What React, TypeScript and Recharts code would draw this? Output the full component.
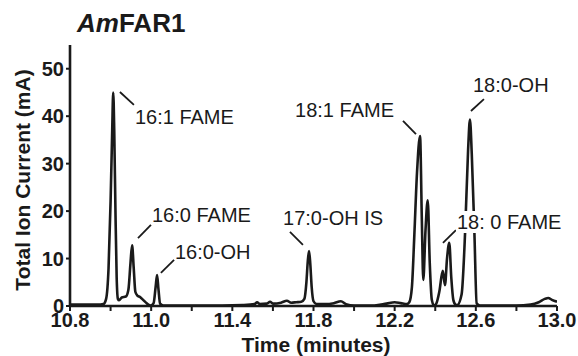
import React from 'react';
import { LineChart, Line, XAxis, YAxis, ReferenceLine, ReferenceDot } from 'recharts';

const FONT = '"Liberation Sans", Arial, sans-serif';
const INK = '#1a1a1a';

// retention time (minutes) and total ion current (mA)
const retentionTime = [
  10.6, 10.7, 10.75, 10.765, 10.778, 10.79, 10.8, 10.808, 10.813, 10.818,
  10.824, 10.83, 10.836, 10.842, 10.855, 10.875, 10.888, 10.898, 10.906, 10.914,
  10.922, 10.932, 10.945, 10.96, 10.98, 10.998, 11.012, 11.022, 11.029, 11.036,
  11.044, 11.06, 11.2, 11.35, 11.45, 11.51, 11.522, 11.535, 11.57, 11.586,
  11.6, 11.64, 11.669, 11.69, 11.715, 11.74, 11.755, 11.765, 11.772, 11.778,
  11.784, 11.791, 11.8, 11.815, 11.86, 11.9, 11.935, 11.96, 12.0, 12.1,
  12.16, 12.2, 12.23, 12.26, 12.272, 12.285, 12.297, 12.31, 12.325, 12.334,
  12.341, 12.352, 12.363, 12.373, 12.383, 12.394, 12.405, 12.42, 12.437, 12.448,
  12.458, 12.469, 12.479, 12.489, 12.5, 12.508, 12.53, 12.547, 12.562, 12.571,
  12.58, 12.593, 12.604, 12.62, 12.8, 12.87, 12.91, 12.94, 12.957, 12.975,
  13.0,
];
const ionCurrent = [
  0.3, 0.3, 0.3, 0.4, 1.5, 8, 22, 37, 45, 37,
  20, 6, 1.5, 1.2, 1.8, 2.0, 3.5, 9, 12.8, 8,
  3, 2.2, 1.9, 1.3, 0.5, 0.1, 0.6, 4, 6.5, 3.5,
  0.5, 0.1, 0.1, 0.1, 0.2, 0.4, 0.8, 0.4, 0.5, 0.9,
  0.5, 0.7, 1.1, 0.7, 0.8, 0.9, 1.5, 5, 9.5, 11.6,
  9, 4, 1, 0.4, 0.4, 0.6, 1.0, 0.4, 0.1, 0.1,
  0.5, 0.8, 0.6, 0.4, 0.8, 4, 15, 28, 35.8, 18,
  5.5, 16, 22.3, 9, 1.3, 0.1, 0.5, 3, 7.4, 4.4,
  10, 13.3, 6, 1.3, 0.3, 0.2, 2.5, 15.4, 33, 39.3,
  32, 15.4, 0.6, 0.1, 0.1, 0.3, 0.8, 1.5, 1.7, 1.3,
  0.9,
];

const xTicks = [10.6, 10.8, 11.0, 11.2, 11.4, 11.6, 11.8, 12.0, 12.2, 12.4, 12.6, 12.8, 13.0];
const xTickLabels = ['10.8', '', '11.0', '', '11.4', '', '11.8', '', '12.2', '', '12.6', '', '13.0'];
const yTicks = [0, 10, 20, 30, 40, 50];

// peak annotations: name, text anchor, leader line ends (all in data units)
const peakNames = ['16:1 FAME', '16:0 FAME', '16:0-OH', '17:0-OH IS', '18:1 FAME', '18:0-OH', '18: 0 FAME'];
const labelTime = [10.92, 11.004, 11.117, 11.65, 11.709, 12.586, 12.507];
const labelCurrent = [39.8, 19.2, 11.4, 18.5, 41.3, 46.6, 17.7];
const leaderStart = [[10.846, 45.1], [10.935, 14.3], [11.048, 7.0], [11.684, 15.6], [12.241, 39.0], [12.64, 43.6], [12.438, 13.3]];
const leaderEnd = [[10.915, 42.4], [10.999, 17.1], [11.113, 9.7], [11.748, 12.9], [12.305, 36.2], [12.576, 41.1], [12.502, 16.0]];

const data = retentionTime.map((t, i) => ({ t, current: ionCurrent[i] }));

const TimeTick = (props: any) => {
  const { x, y, payload } = props;
  const label = xTickLabels[xTicks.indexOf(payload.value)];
  return (
    <text x={x} y={y} dy="0.71em" textAnchor="middle" fontSize={20} fontWeight="bold" fontFamily={FONT} fill={INK}>
      {label}
    </text>
  );
};

const peakLabel = (name: string, boxed: boolean) => (props: any) => {
  const { cx, cy } = props;
  return (
    <g>
      {boxed && <rect x={cx - 1} y={cy - 11} width={110} height={22} fill="#fff" />}
      <text x={cx} y={cy} dy="0.36em" fontSize={20} fontFamily={FONT} fill={INK}>
        {name}
      </text>
    </g>
  );
};

const App: React.FC = () => {
  return (
    <div style={{ position: 'absolute', left: 0, top: 0, background: '#fff' }}>
      <LineChart width={578} height={356} data={data} margin={{ top: 45, right: 21, bottom: 0, left: 0 }}>
        <XAxis
          dataKey="t"
          type="number"
          domain={[10.6, 13.0]}
          ticks={xTicks}
          interval={0}
          allowDataOverflow
          height={50}
          tickSize={5}
          tick={<TimeTick />}
          axisLine={{ stroke: INK, strokeWidth: 2.6 }}
          tickLine={{ stroke: INK, strokeWidth: 2 }}
        />
        <YAxis
          type="number"
          domain={[0, 55]}
          ticks={yTicks}
          interval={0}
          allowDataOverflow
          width={70}
          tickSize={4}
          tick={{ fontSize: 20, fontWeight: 'bold', fontFamily: FONT, fill: INK }}
          axisLine={{ stroke: INK, strokeWidth: 2.6 }}
          tickLine={{ stroke: INK, strokeWidth: 2 }}
        />
        <Line
          type="monotone"
          dataKey="current"
          stroke={INK}
          strokeWidth={2.6}
          dot={false}
          isAnimationActive={false}
        />
        {peakNames.map((name, i) => (
          <ReferenceLine
            key={`leader-${name}`}
            segment={[
              { x: leaderStart[i][0], y: leaderStart[i][1] },
              { x: leaderEnd[i][0], y: leaderEnd[i][1] },
            ]}
            stroke={INK}
            strokeWidth={1.8}
          />
        ))}
        {peakNames.map((name, i) => (
          <ReferenceDot
            key={`label-${name}`}
            x={labelTime[i]}
            y={labelCurrent[i]}
            r={0}
            shape={peakLabel(name, i === 6)}
          />
        ))}
        <text x={77} y={32} fontSize={26} fontWeight="bold" fontFamily={FONT} fill={INK}>
          <tspan fontStyle="italic">Am</tspan>FAR1
        </text>
        <text
          x={30}
          y={180}
          transform="rotate(-90, 30, 180)"
          textAnchor="middle"
          fontSize={21}
          fontWeight="bold"
          fontFamily={FONT}
          fill={INK}
        >
          Total Ion Current (mA)
        </text>
        <text x={316} y={352} textAnchor="middle" fontSize={21} fontWeight="bold" fontFamily={FONT} fill={INK}>
          Time (minutes)
        </text>
      </LineChart>
    </div>
  );
};

export default App;
